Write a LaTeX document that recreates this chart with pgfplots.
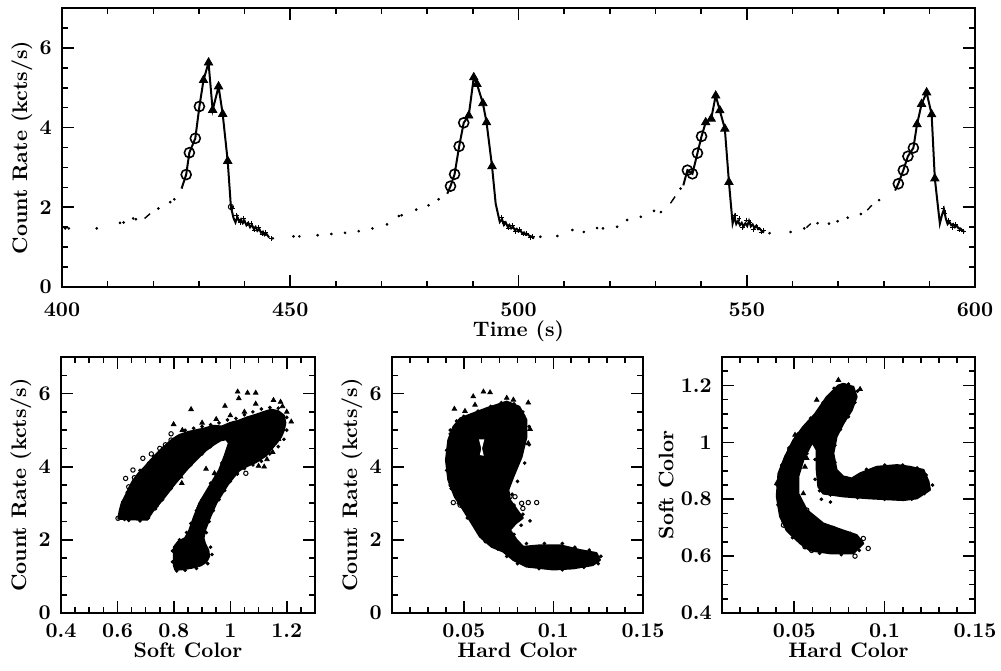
\documentclass[border=0pt]{standalone}
\usepackage{pgfplots}
\pgfplotsset{compat=1.18}
\begin{document}
\begin{tikzpicture}
\useasboundingbox (0pt,0pt) rectangle (500.5pt,335pt);
\pgfplotsset{
 myax/.style={
  scale only axis,
  anchor=south west,
  axis line style={line width=1.1pt},
  every tick/.style={black, line width=0.8pt},
  major tick length=6pt, minor tick length=3pt,
  tick pos=both, tick align=inside,
  scaled ticks=false,
  tick label style={font=\fontsize{10.5}{12}\selectfont\bfseries, inner sep=1pt},
  label style={font=\fontsize{10.5}{12}\selectfont\bfseries},
  /pgf/number format/assume math mode=true,
  yticklabel style={xshift=-4pt},
  xticklabel style={yshift=-4pt},
  ylabel shift=-1pt,
 },
 cloud/.style={fill=black, draw=black, line width=1pt, line join=round},
 fuzz/.style={only marks, mark=*, mark size=0.7pt},
}
% ---------------- top: light curve ----------------
\begin{axis}[myax, at={(31pt,191.5pt)}, width=456.5pt, height=139.5pt,
  xmin=400, xmax=600, ymin=0, ymax=7,
  xtick={400,450,500,550,600}, xticklabels={400,450,500,550,600},
  minor xtick={400,410,...,600},
  ytick={0,2,4,6}, yticklabels={0,2,4,6}, minor ytick={0,0.5,...,7},
  xticklabel style={yshift=-2.5pt},
  xlabel={Time (s)}, ylabel={Count Rate (kcts/s)},
  xlabel style={yshift=2.5pt}]
% quiescent dots
\addplot[only marks, mark=*, mark size=0.45pt] coordinates {
(400.7,1.47)(401.5,1.47)(407.6,1.47)(412.7,1.61)(413.5,1.62)(415.6,1.72)(416.2,1.70)
(421.1,1.97)(423.7,2.13)(424.6,2.2)
(446.2,1.22)(450.7,1.27)(452.0,1.27)(456.0,1.30)(459.0,1.33)(462.0,1.36)(465.0,1.40)
(468.0,1.47)(471.2,1.57)(473.8,1.78)(474.4,1.80)(477.6,1.94)(480.3,2.05)(482.5,2.2)
(504.8,1.26)(508.5,1.28)(511.8,1.43)(514.3,1.38)(517.2,1.48)(518.5,1.47)(521.6,1.51)
(523.8,1.68)(526.8,1.76)(529.7,1.91)(531.2,1.88)(535.5,2.47)
(555.0,1.35)(559.6,1.38)(562.6,1.47)(565.5,1.60)(568.0,1.59)(569.9,1.65)
(572.1,1.74)(575.0,1.83)(579.0,2.18)};
% short dashes
\addplot[line width=0.7pt] coordinates {(418.1,1.72)(419.3,1.84)};
\addplot[line width=0.7pt] coordinates {(533.3,2.10)(534.3,2.27)};
\addplot[line width=0.7pt] coordinates {(563.1,1.49)(564.0,1.59)};
\addplot[line width=0.7pt] coordinates {(576.4,1.93)(577.4,2.05)};
% flare 1
\addplot[line width=1pt] coordinates {
(426.2,2.47)(427.2,2.82)(427.9,3.37)(429.2,3.73)(430.1,4.53)(431.0,5.19)(432.1,5.63)
(433.0,4.44)(434.3,5.03)(435.2,4.34)(436.3,3.16)(437.0,2.01)(437.6,1.72)(438.0,1.62)
(438.4,1.76)(438.8,1.65)(439.2,1.70)(439.6,1.60)(440.0,1.66)(440.4,1.55)(440.8,1.61)
(441.2,1.50)(441.6,1.56)(442.0,1.46)(442.4,1.51)(442.8,1.41)(443.2,1.46)(443.6,1.36)
(444.0,1.39)(444.4,1.30)(444.8,1.33)(445.4,1.24)};
% flare 2
\addplot[line width=1pt] coordinates {
(484.4,2.34)(485.1,2.53)(486.0,2.83)(487.0,3.53)(488.0,4.12)(489.1,4.30)(490.2,5.26)
(490.9,5.09)(492.2,4.61)(493.0,4.13)(494.2,3.03)(495.0,2.09)(495.9,1.63)(496.4,1.70)
(496.8,1.56)(497.2,1.62)(497.6,1.52)(498.0,1.56)(498.4,1.47)(498.8,1.51)(499.2,1.43)
(499.6,1.46)(500.0,1.39)(500.4,1.42)(500.8,1.35)(501.2,1.37)(501.6,1.31)(502.0,1.33)
(502.4,1.28)(502.8,1.27)(503.4,1.22)};
% flare 3
\addplot[line width=1pt] coordinates {
(536.1,2.55)(537.0,2.93)(538.1,2.84)(539.2,3.36)(540.1,3.78)(541.0,4.13)(542.2,4.22)
(543.2,4.80)(544.1,4.43)(545.2,3.97)(546.1,2.63)(546.9,1.59)(547.3,1.76)(547.7,1.58)
(548.1,1.66)(548.5,1.55)(548.9,1.61)(549.3,1.52)(549.7,1.60)(550.1,1.53)(550.5,1.66)
(550.9,1.52)(551.3,1.57)(551.7,1.48)(552.1,1.54)(552.5,1.45)(552.9,1.46)(553.3,1.40)
(553.8,1.37)};
% flare 4
\addplot[line width=1pt] coordinates {
(582.5,2.42)(583.2,2.59)(584.3,2.93)(585.3,3.28)(586.5,3.49)(587.3,4.08)(588.3,4.59)
(589.4,4.88)(590.5,4.33)(591.2,2.72)(592.3,1.59)(592.8,1.82)(593.2,1.95)(593.6,1.72)
(594.0,1.58)(594.4,1.64)(594.8,1.55)(595.2,1.58)(595.6,1.50)(596.0,1.54)(596.4,1.47)
(596.8,1.47)(597.2,1.42)(597.7,1.38)};
% decay noise
\addplot[only marks, mark=+, mark size=1.2pt, line width=0.35pt] coordinates {
(437.4,1.98)(438.2,1.80)(439.0,1.62)(439.8,1.72)(440.6,1.58)(441.4,1.60)(442.2,1.43)
(443.0,1.49)(443.8,1.33)(444.6,1.37)(445.8,1.22)
(496.2,1.74)(497.0,1.60)(497.8,1.48)(498.6,1.55)(499.4,1.40)(500.2,1.44)(501.0,1.33)
(501.8,1.35)(502.6,1.24)(503.1,1.27)
(547.5,1.80)(548.3,1.72)(549.1,1.50)(549.9,1.68)(550.7,1.62)(551.5,1.45)(552.3,1.50)
(553.1,1.38)(553.6,1.42)
(593.0,1.98)(593.4,1.86)(594.2,1.66)(595.0,1.50)(595.8,1.56)(596.6,1.43)(597.4,1.40)};
% circles
\addplot[only marks, mark=o, mark size=2.5pt, line width=0.8pt] coordinates {
(427.2,2.82)(427.9,3.37)(429.2,3.73)(430.1,4.53)
(485.1,2.53)(486.0,2.83)(487.0,3.53)(488.0,4.12)
(537.0,2.93)(538.1,2.84)(539.2,3.36)(540.1,3.78)
(583.2,2.59)(584.3,2.93)(585.3,3.28)(586.5,3.49)};
\addplot[only marks, mark=o, mark size=1.3pt, line width=0.5pt] coordinates {(437.0,2.01)};
% triangles
\addplot[only marks, mark=triangle*, mark size=2.4pt] coordinates {
(431.0,5.19)(432.1,5.63)(433.0,4.44)(434.3,5.03)(435.2,4.34)(436.3,3.16)
(489.1,4.30)(490.2,5.26)(490.9,5.09)(492.2,4.61)(493.0,4.13)(494.2,3.03)
(541.0,4.13)(542.2,4.22)(543.2,4.80)(544.1,4.43)(545.2,3.97)(546.1,2.63)
(587.3,4.08)(588.3,4.59)(589.4,4.88)(590.5,4.33)(591.2,2.72)};
\end{axis}
% ---------------- bottom left: soft colour ----------------
\begin{axis}[myax, at={(30.5pt,28.5pt)}, width=127pt, height=128pt,
  xmin=0.4, xmax=1.3, ymin=0, ymax=7,
  xtick={0.4,0.6,0.8,1,1.2}, xticklabels={0.4,0.6,0.8,1,1.2},
  minor xtick={0.45,0.5,0.55,0.65,0.7,0.75,0.85,0.9,0.95,1.05,1.1,1.15,1.25},
  ytick={0,2,4,6}, yticklabels={0,2,4,6}, minor ytick={0,0.5,...,7},
  xlabel={Soft Color}, ylabel={Count Rate (kcts/s)}, xlabel shift=-2pt]
\addplot[cloud] coordinates {
(0.603,2.58)(0.608,2.8)(0.615,3.0)(0.628,3.2)(0.64,3.4)(0.655,3.62)(0.675,3.82)(0.70,4.02)
(0.72,4.2)(0.745,4.4)(0.77,4.58)(0.795,4.75)(0.82,4.87)(0.85,4.95)(0.88,5.0)(0.91,5.05)
(0.94,5.12)(0.97,5.1)(1.0,5.2)(1.03,5.26)(1.06,5.35)(1.09,5.42)(1.12,5.5)(1.145,5.56)
(1.17,5.52)(1.19,5.4)(1.195,5.2)(1.19,5.0)(1.18,4.82)(1.165,4.66)(1.145,4.48)(1.126,4.3)
(1.09,4.12)(1.06,4.02)(1.032,3.9)(1.01,3.7)(0.99,3.5)(0.97,3.25)(0.95,3.0)(0.93,2.65)
(0.912,2.3)(0.905,2.05)(0.91,1.9)(0.922,1.72)(0.925,1.55)(0.915,1.4)(0.895,1.3)
(0.865,1.24)(0.835,1.2)(0.805,1.18)(0.80,1.3)(0.80,1.55)(0.80,1.8)(0.815,1.95)(0.84,2.05)
(0.855,2.27)(0.87,2.6)(0.89,3.0)(0.925,3.45)(0.96,3.9)(0.98,4.3)(0.995,4.65)(0.985,4.75)
(0.965,4.72)(0.94,4.6)(0.914,4.45)(0.88,4.2)(0.843,3.9)(0.80,3.5)(0.77,3.2)(0.749,3.0)
(0.725,2.78)(0.705,2.55)(0.65,2.56)(0.603,2.58)} --cycle;
\addplot[fuzz] coordinates {
(0.61,2.7)(0.62,3.05)(0.635,3.3)(0.66,3.55)(0.68,3.9)(0.71,4.1)(0.73,4.28)(0.76,4.5)
(0.78,4.62)(0.81,4.8)(0.84,5.0)(0.87,5.05)(0.90,5.1)(0.93,5.15)(0.96,5.2)(0.99,5.28)
(1.02,5.32)(1.05,5.42)(1.08,5.5)(1.11,5.58)(1.14,5.62)(1.17,5.6)(1.2,5.35)(1.2,5.0)
(1.19,4.75)(1.17,4.55)(1.14,4.35)(1.11,4.15)(1.08,4.05)(1.05,3.95)(1.025,3.8)(1.0,3.6)
(0.98,3.35)(0.96,3.1)(0.94,2.8)(0.925,2.5)(0.915,2.2)(0.93,1.8)(0.935,1.6)(0.92,1.35)
(0.88,1.22)(0.84,1.17)(0.81,1.15)(0.795,1.4)(0.795,1.7)(0.82,2.0)(0.845,2.2)(0.86,2.45)
(0.88,2.8)(0.90,3.1)(0.93,3.55)(0.95,3.75)(0.97,4.1)(0.99,4.45)(0.93,4.55)(0.9,4.35)
(0.86,4.05)(0.82,3.7)(0.79,3.4)(0.76,3.1)(0.735,2.85)(0.71,2.6)(0.68,2.52)(0.64,2.53)
(0.625,2.56)};
\addplot[only marks, mark=triangle*, mark size=1.3pt] coordinates {
(1.026,6.05)(1.061,6.02)(1.09,6.02)(1.03,5.87)(0.861,5.57)(0.981,5.66)(1.09,5.72)(0.799,5.16)
(1.153,5.82)(1.178,5.77)(1.185,5.65)(1.216,5.23)(0.914,3.94)(0.944,3.82)(0.824,3.73)
(0.828,3.55)(1.12,4.0)(1.10,4.02)(1.171,4.75)(0.89,2.92)(0.95,5.3)(1.0,5.4)(1.05,5.5)
(0.9,5.2)(0.83,5.0)(1.2,5.5)(1.15,4.4)(1.13,4.2)};
\addplot[only marks, mark=o, mark size=1.1pt, line width=0.5pt] coordinates {
(0.602,2.59)(0.629,3.68)(0.655,3.91)(0.738,2.95)(0.745,3.12)(0.79,4.73)(0.77,4.6)
(0.75,4.5)(0.69,4.23)(0.72,4.35)(0.66,3.7)(1.055,3.82)(0.79,4.9)(0.76,3.4)(0.64,3.45)};
\end{axis}
% ---------------- bottom middle: hard colour vs rate ----------------
\begin{axis}[myax, at={(196pt,28.5pt)}, width=125.5pt, height=128pt,
  xmin=0.01, xmax=0.15, ymin=0, ymax=7,
  xtick={0.05,0.1,0.15}, xticklabels={0.05,0.1,0.15},
  minor xtick={0.02,0.03,0.04,0.06,0.07,0.08,0.09,0.11,0.12,0.13,0.14},
  ytick={0,2,4,6}, yticklabels={0,2,4,6}, minor ytick={0,0.5,...,7},
  xlabel={Hard Color}, ylabel={Count Rate (kcts/s)}, xlabel shift=-2pt]
\addplot[cloud] coordinates {
(0.0442,5.09)(0.048,5.32)(0.0553,5.46)(0.0628,5.6)(0.0684,5.69)(0.074,5.78)(0.081,5.64)
(0.085,5.28)(0.085,4.82)(0.0823,4.27)(0.0777,3.73)(0.0749,3.37)(0.0758,3.09)(0.081,2.73)
(0.083,2.6)(0.079,2.45)(0.0758,2.27)(0.0795,2.0)(0.0832,1.81)(0.0925,1.85)(0.104,1.85)
(0.115,1.72)(0.124,1.64)(0.126,1.45)(0.122,1.31)(0.111,1.22)(0.10,1.19)(0.085,1.27)
(0.0777,1.45)(0.072,1.68)(0.0656,1.81)(0.059,2.09)(0.0545,2.45)(0.0498,2.82)(0.045,3.18)
(0.0414,3.64)(0.0401,4.18)(0.0414,4.73)(0.0442,5.09)} --cycle;
\addplot[fill=white, draw=none] coordinates {
(0.0585,4.75)(0.0615,4.75)(0.0602,4.5)(0.0612,4.3)(0.059,4.32)(0.0598,4.5)} --cycle;
\addplot[fuzz] coordinates {
(0.0425,5.0)(0.046,5.25)(0.05,5.38)(0.058,5.52)(0.065,5.65)(0.071,5.75)(0.078,5.72)
(0.083,5.5)(0.0865,5.1)(0.0865,4.6)(0.084,4.1)(0.08,3.6)(0.077,3.25)(0.078,2.95)
(0.083,2.7)(0.087,2.52)(0.082,2.4)(0.078,2.15)(0.085,1.9)(0.095,1.9)(0.105,1.9)
(0.112,1.8)(0.12,1.72)(0.1265,1.55)(0.125,1.35)(0.117,1.25)(0.105,1.18)(0.092,1.21)
(0.08,1.35)(0.074,1.55)(0.069,1.75)(0.062,1.95)(0.057,2.3)(0.052,2.6)(0.047,3.0)
(0.043,3.4)(0.0405,3.9)(0.0405,4.45)(0.0425,4.9)(0.06,2.2)(0.065,2.0)(0.07,1.9)
(0.075,2.3)(0.068,2.4)};
\addplot[only marks, mark=triangle*, mark size=1.3pt] coordinates {
(0.061,6.05)(0.0647,6.03)(0.0448,5.58)(0.0507,5.52)(0.0563,5.69)(0.0553,5.92)(0.074,5.88)
(0.0777,5.83)(0.086,5.75)(0.087,5.03)(0.086,4.64)(0.083,5.42)};
\addplot[only marks, mark=o, mark size=1.1pt, line width=0.5pt] coordinates {
(0.043,3.5)(0.0442,3.02)(0.048,2.95)(0.0758,3.18)(0.0786,3.18)(0.0823,3.0)(0.086,3.02)
(0.0907,3.02)(0.083,2.86)};
\end{axis}
% ---------------- bottom right: hard vs soft colour ----------------
\begin{axis}[myax, at={(361pt,28.5pt)}, width=126.5pt, height=128pt,
  xmin=0.01, xmax=0.15, ymin=0.4, ymax=1.3,
  xtick={0.05,0.1,0.15}, xticklabels={0.05,0.1,0.15},
  minor xtick={0.02,0.03,0.04,0.06,0.07,0.08,0.09,0.11,0.12,0.13,0.14},
  ytick={0.4,0.6,0.8,1,1.2}, yticklabels={0.4,0.6,0.8,1,1.2},
  minor ytick={0.45,0.5,0.55,0.65,0.7,0.75,0.85,0.9,0.95,1.05,1.1,1.15,1.25},
  xlabel={Hard Color}, ylabel={Soft Color}, xlabel shift=-2pt]
\addplot[cloud] coordinates {
(0.0744,1.20)(0.068,1.16)(0.0615,1.10)(0.055,1.055)(0.0495,1.008)(0.0449,0.95)(0.0412,0.89)
(0.0403,0.81)(0.0421,0.74)(0.0458,0.69)(0.0532,0.645)(0.0587,0.62)(0.0698,0.61)(0.0827,0.61)
(0.0882,0.645)(0.0845,0.674)(0.0771,0.69)(0.066,0.715)(0.0569,0.762)(0.0522,0.82)
(0.0522,0.88)(0.055,0.938)(0.0587,0.985)(0.060,1.0)(0.0624,0.973)(0.0624,0.903)(0.0633,0.844)
(0.066,0.82)(0.0771,0.81)(0.0919,0.803)(0.1103,0.797)(0.1178,0.803)(0.1251,0.833)
(0.1243,0.862)(0.1215,0.903)(0.114,0.914)(0.107,0.92)(0.0956,0.914)(0.0864,0.891)
(0.0818,0.873)(0.0771,0.88)(0.0734,0.903)(0.0716,0.961)(0.0734,1.02)(0.0771,1.066)
(0.0818,1.113)(0.0845,1.16)(0.0827,1.195)(0.0771,1.206)(0.0744,1.20)} --cycle;
\addplot[fuzz] coordinates {
(0.072,1.19)(0.066,1.14)(0.059,1.085)(0.052,1.03)(0.047,0.98)(0.043,0.92)(0.0405,0.85)
(0.041,0.78)(0.044,0.72)(0.049,0.665)(0.056,0.63)(0.064,0.61)(0.076,0.605)(0.086,0.62)
(0.087,0.655)(0.081,0.68)(0.071,0.7)(0.061,0.735)(0.054,0.79)(0.0515,0.85)(0.053,0.91)
(0.057,0.96)(0.0615,0.94)(0.0615,0.87)(0.064,0.83)(0.07,0.815)(0.085,0.805)(0.1,0.8)
(0.115,0.8)(0.122,0.82)(0.1265,0.85)(0.123,0.885)(0.118,0.91)(0.11,0.92)(0.1,0.92)
(0.09,0.905)(0.079,0.875)(0.0725,0.93)(0.0725,0.99)(0.0755,1.045)(0.08,1.09)(0.0835,1.14)
(0.085,1.18)(0.08,1.205)(0.065,0.8)(0.07,0.79)};
\addplot[only marks, mark=triangle*, mark size=1.3pt] coordinates {
(0.0744,1.219)(0.0864,1.187)(0.0624,1.149)(0.0504,1.026)(0.0476,0.979)(0.0403,0.856)
(0.0559,0.914)(0.0569,0.944)(0.055,0.82)(0.0504,0.856)};
\addplot[only marks, mark=o, mark size=1.1pt, line width=0.5pt] coordinates {
(0.044,0.709)(0.0569,0.762)(0.0559,0.633)(0.0596,0.62)(0.0836,0.6)(0.0882,0.662)
(0.0909,0.627)(0.0716,0.697)(0.0771,0.681)};
\end{axis}
\end{tikzpicture}
\end{document}
